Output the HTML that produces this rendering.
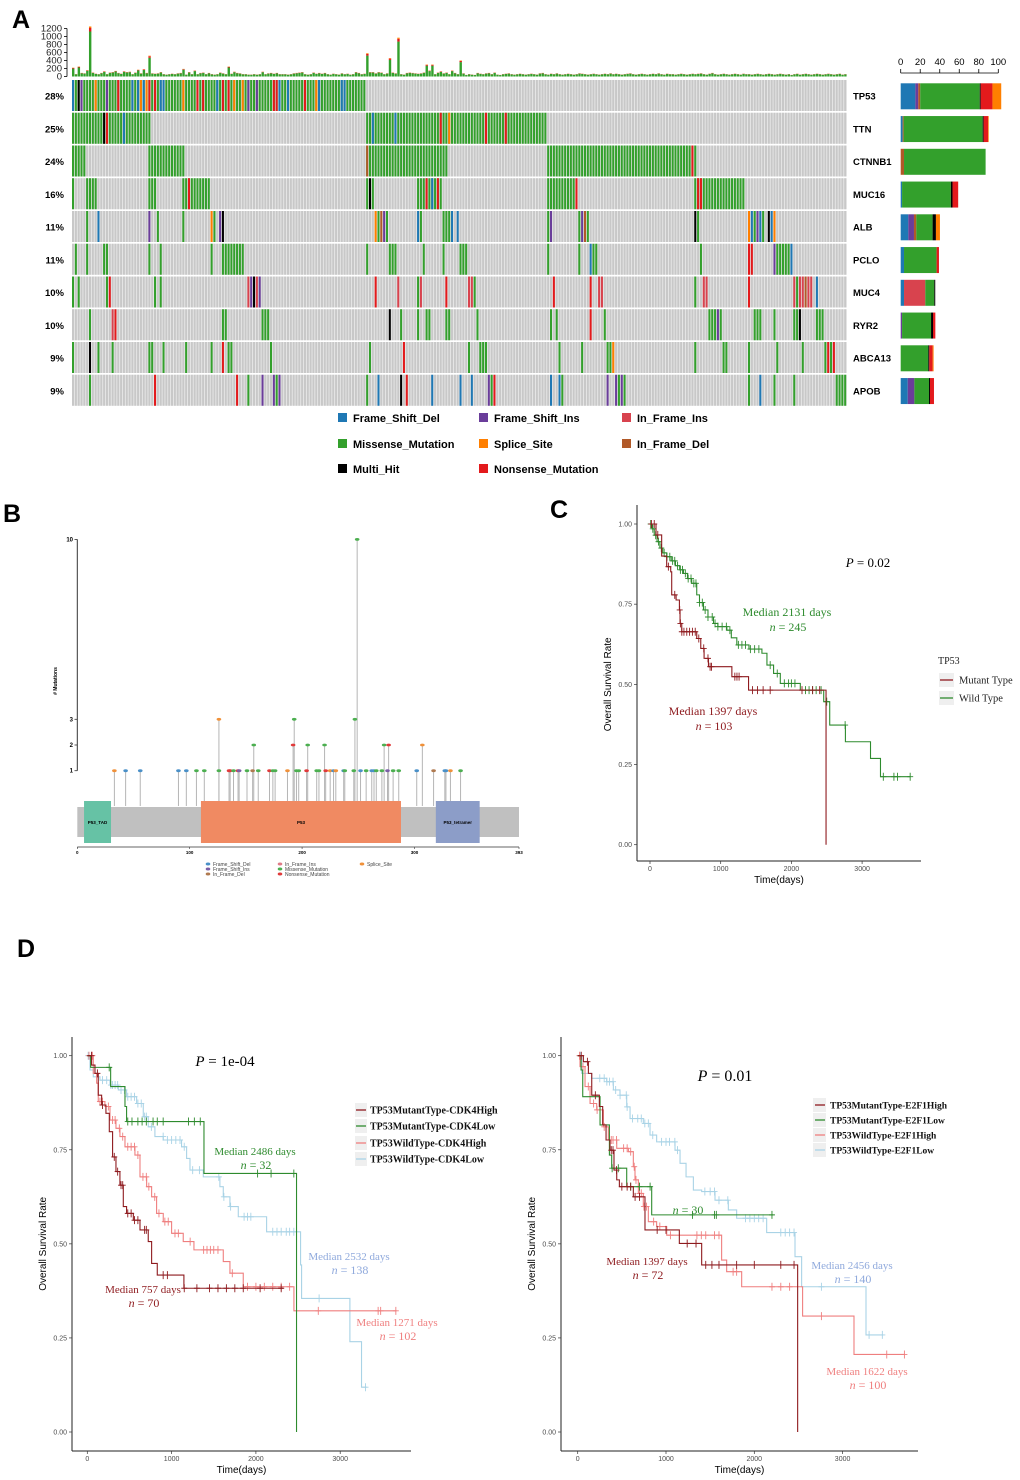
<!DOCTYPE html>
<html><head><meta charset="utf-8"><title>TP53 mutation figure</title>
<style>
html,body{margin:0;padding:0;background:#fff;width:1020px;height:1480px;overflow:hidden}
svg{display:block}
.sans{font-family:"Liberation Sans",Arial,sans-serif}
.serif{font-family:"Liberation Serif","Times New Roman",serif}
</style></head>
<body>
<svg id="fig" width="1020" height="1480" viewBox="0 0 1020 1480" xmlns="http://www.w3.org/2000/svg"></svg>
<script>
// ---------------- DATA ----------------
const genes = ["TP53","TTN","CTNNB1","MUC16","ALB","PCLO","MUC4","RYR2","ABCA13","APOB"];
const genePct = ["28%","25%","24%","16%","11%","11%","10%","10%","9%","9%"];
const nSamples = 274;
const sampleTotals = [220,60,250,90,80,160,1250,100,70,60,90,130,60,100,110,140,90,70,130,110,
120,60,100,170,80,180,90,520,80,70,80,110,60,50,60,70,60,80,90,190,
50,110,60,150,60,90,100,60,90,60,50,60,100,80,60,250,70,120,90,80,
60,60,50,50,60,50,60,120,60,80,90,70,90,60,60,60,50,60,80,90,
100,110,60,50,60,100,70,90,70,90,60,50,70,60,50,80,60,70,50,60,
110,90,60,70,580,110,110,80,110,100,60,80,460,100,80,970,60,50,90,100,
90,80,70,80,100,300,150,300,60,100,130,80,100,60,150,90,60,400,80,40,
60,50,40,90,70,60,80,90,60,100,50,40,60,70,80,60,50,60,70,60,
50,60,70,60,50,80,90,60,50,70,60,80,60,50,60,70,60,50,60,80,
70,60,50,60,70,60,50,60,70,60,80,60,70,60,50,60,70,80,60,50,
60,70,60,50,60,70,60,80,60,50,70,60,60,50,60,70,60,50,60,70,
60,70,80,60,50,70,90,60,50,60,70,60,50,60,70,60,50,70,60,60,
50,60,70,60,50,60,70,60,50,60,70,60,50,60,40,60,70,50,60,70,
60,50,60,70,60,50,60,70,60,50,60,70,50,60];
const totalTicks = [0,200,400,600,800,1000,1200];
// mutation entries: "col:type" or "start-end:type"  (g missense, b fs_del, p fs_ins, R if_ins, n if_del, o splice, k multi, r nonsense)
const mutTP53 = "0-103:g 0:b 2:k 3:p 8:o 12:p 16:r 21:b 23:b 24:o 25:b 26:o 27:r 29:r 31:b 32:b 39:o 44:r 46:r 51:b 53:r 55:r 57:o 60:o 62:p 65:p 71:r 72:r 73:b 76:b 82:r 86:o 87:b 95:b 96:b";
const mutTTN = "0-27:g 11:k 12:r 18:b 104-167:g 106:b 114:b 130:r 133:o 146:r 153:r";
const mutCTNNB1 = "0-4:g 27-39:g 104-132:g 104:n 168-220:g 219:r";
const mutMUC16 = "0:g 5-8:g 27-29:g 39-48:g 41:r 104:g 105:k 106:g 122-130:g 125:r 127:b 129:r 168-177:g 178:r 220-237:g 221:r 222:r";
const mutALB = "5:g 9:b 27:p 30:g 39:g 49:o 50:g 52:p 53:k 107:o 108:g 109:n 110:p 111:g 122:b 123:g 131:g 132:g 133:g 134:b 136:b 168:g 169:p 179:g 180:p 181:n 182:g 220:k 221:g 239:o 240:b 241:g 242:p 243:b 244:g 246:k 247:b 248:o";
const mutPCLO = "1:g 5:g 11:g 12:g 27:g 31:g 49:g 53-60:g 104:g 112-114:g 124:g 131:g 137-139:g 168:g 179:g 183:b 184:g 185:g 222:g 239:r 240:r 248:p 249-253:g 254:b";
const mutMUC4 = "0:g 2:g 12:g 13:r 29:g 31:g 62:R 63:p 64:k 65:R 66:p 107:r 115:R 122:g 123:R 132:r 140:R 141:R 142:g 170:r 183:r 186:R 187:R 220:g 223:R 224:R 239:r 255:R 256:g 257:R 258:R 259:n 260:R 261:R 263:b";
const mutRYR2 = "6:g 14:R 15:r 53:g 54:g 67-69:g 112:k 116:g 122:g 125:g 126:g 132:g 133:g 143:g 169:g 171:g 183:r 188:g 225-227:g 228:p 229:g 241-243:g 248:g 255:g 256:g 257:k 263-265:g";
const mutABCA13 = "0:g 6:k 9:g 14:g 27:g 28:g 32:g 40:g 49:g 53:r 55:g 56:g 70:g 105:g 117:r 140:g 144-146:g 172:g 180:g 189:g 190:g 191:o 220:g 230:g 231:g 239:g 249:g 258:g 266:g 267:r 268:g 269:r";
const mutAPOB = "6:g 29:r 58:r 62:g 67:p 71:p 72:g 73:p 104:g 108:b 116:k 118:r 127:b 137:b 141:b 147:p 148:g 149:r 169:b 172:b 173:g 189:p 192:p 193:g 194:p 195:g 239:g 243:b 248:g 255:g 270-273:g";
const geneMutations = [mutTP53,mutTTN,mutCTNNB1,mutMUC16,mutALB,mutPCLO,mutMUC4,mutRYR2,mutABCA13,mutAPOB];
// right bar chart: % by type order b,p,n,R,g,k,r,o
const barTypes = ["b","p","n","R","g","k","r","o"];
const barTP53=[15,3,2,0,61,1,12,9], barTTN=[2,0,1,0,81,1,4.5,0.7], barCTNNB1=[0,0,3.4,0,83.6,0,0,0],
barMUC16=[1.4,0,0,0,50,1.7,5.8,0], barALB=[7.8,5.8,2.4,0,16.7,3.4,0,4.1], barPCLO=[3.4,0,0,0,33.4,0,2.4,0],
barMUC4=[3.4,0,0,21.8,9.2,1,0,0], barRYR2=[0,1.4,0,0,29.7,2,2.4,0], barABCA13=[0,0,0,0,28.3,1,3.4,1],
barAPOB=[7.2,6.8,0,0,15,1,4.1,0];
const geneBars=[barTP53,barTTN,barCTNNB1,barMUC16,barALB,barPCLO,barMUC4,barRYR2,barABCA13,barAPOB];
const pctTicks=[0,20,40,60,80,100];
// lollipop
const lolliPos=[33,43,56,90,97,106,113,126,126,135,136,139,143,144,151,156,157,161,171,174,176,187,192,193,195,197,204,205,213,215,220,221,225,228,230,237,238,246,247,249,252,257,262,264,266,271,273,276,277,281,286,302,307,317,327,328,332,341];
const lolliCnt=[1,1,1,1,1,1,1,3,1,1,1,1,1,1,1,1,2,1,1,1,1,1,2,3,1,1,1,2,1,1,2,1,1,1,1,1,1,1,3,10,1,1,1,1,1,1,2,1,2,1,1,1,2,1,1,1,1,1];
const lolliType=["o","b","b","b","b","g","g","o","g","r","r","g","r","p","g","n","g","g","r","g","g","o","r","g","g","g","r","g","g","g","g","r","o","b","o","b","g","g","g","g","b","g","b","b","g","g","g","p","r","g","g","b","o","n","b","b","o","g"];
const lolliYTicks=[1,2,3,10];
const lolliXTicks=[0,100,200,300,393];
// KM panel C
const cMutT=[0,85,165,236,293,307,369,416,425,449,661,718,765,827,1158,1394,2490];
const cMutS=[1,0.966,0.90,0.867,0.851,0.779,0.763,0.732,0.69,0.664,0.643,0.612,0.581,0.555,0.524,0.482,0];
const cMutCens=[20,60,110,260,350,420,430,450,480,520,560,600,640,690,760,820,850,870,1200,1230,1260,1450,1520,1600,1700,2150,2300,2400];
const cWildT=[0,30,60,100,140,180,236,300,360,420,473,530,590,661,700,756,820,898,960,1087,1150,1228,1400,1583,1654,1748,1843,2126,2457,2542,2764,3119,3260,3685];
const cWildS=[1,0.985,0.965,0.945,0.925,0.91,0.898,0.885,0.87,0.857,0.846,0.83,0.815,0.779,0.755,0.732,0.71,0.69,0.68,0.669,0.645,0.623,0.61,0.597,0.56,0.534,0.503,0.482,0.446,0.373,0.321,0.269,0.212,0.212];
const cWildCens=[10,40,80,120,160,200,240,280,320,350,390,430,460,500,540,580,620,650,700,740,780,820,880,920,960,1020,1080,1130,1250,1300,1350,1420,1480,1540,1700,1800,1900,1960,2000,2050,2200,2250,2300,2350,2420,2500,2760,3300,3450,3500,3680];
// KM panel D left (CDK4)
const dlMHT=[0,51,91,130,170,221,261,300,340,387,427,466,546,625,723,763,830,1146,2324];
const dlMHS=[1,0.975,0.953,0.895,0.869,0.847,0.798,0.731,0.692,0.656,0.599,0.581,0.563,0.537,0.506,0.448,0.417,0.382,0.382];
const dlMHC=[50,120,180,320,360,400,420,480,520,560,600,680,700,900,950,1150,1300,1450,1550,1650,1750,1850,2050,2300];
const dlMLT=[0,40,277,447,466,1384,2482];
const dlMLS=[1,0.969,0.918,0.865,0.825,0.687,0];
const dlMLC=[260,480,530,600,650,700,780,830,900,1200,1270,1340,2020,2180,2450];
const dlWHT=[0,71,111,130,209,269,340,387,447,565,625,704,763,822,901,1000,1138,1265,1613,1692,1850,2451,3668];
const dlWHS=[1,0.953,0.927,0.878,0.865,0.829,0.807,0.785,0.758,0.736,0.678,0.652,0.625,0.581,0.559,0.528,0.506,0.484,0.453,0.422,0.386,0.322,0.322];
const dlWHC=[20,60,150,180,250,300,330,380,420,480,520,560,600,660,700,730,800,850,920,960,1040,1080,1220,1380,1420,1460,1500,1550,1720,1900,2000,2100,2200,2300,2400,2740,3450,3480,3660];
const dlWLT=[0,32,71,150,269,368,466,585,664,723,802,901,1118,1178,1218,1376,1573,1613,1692,1791,2127,2530,2542,3115,3253,3313];
const dlWLS=[1,0.962,0.944,0.935,0.922,0.909,0.891,0.873,0.838,0.811,0.785,0.776,0.758,0.727,0.696,0.678,0.652,0.625,0.599,0.572,0.532,0.444,0.355,0.24,0.119,0.119];
const dlWLC=[10,180,230,280,300,330,360,400,440,480,520,560,600,640,680,700,760,900,950,1000,1050,1100,1150,1250,1330,1560,1620,1700,1860,1900,1940,2200,2250,2300,2360,2400,2450,2750,3300];
// KM panel D right (E2F1)
const drMHT=[0,64,121,159,245,283,321,366,411,442,472,630,762,1151,1404,2491];
const drMHS=[1,0.984,0.953,0.895,0.865,0.816,0.776,0.749,0.696,0.67,0.652,0.625,0.537,0.501,0.444,0];
const drMHC=[40,110,200,380,400,440,500,560,600,650,700,900,1000,1240,1340,1450,1520,1600,1800,2000,2300,2450];
const drMLT=[0,38,57,253,359,385,555,838,2215];
const drMLS=[1,0.962,0.891,0.816,0.736,0.701,0.652,0.577,0.577];
const drMLC=[390,460,600,700,820,1300,1550,1570,2200];
const drWHT=[0,26,83,140,215,291,347,442,574,630,649,687,743,800,894,1008,1630,1687,1857,2547,3129,3706];
const drWHS=[1,0.971,0.918,0.873,0.856,0.811,0.776,0.754,0.745,0.705,0.67,0.634,0.599,0.559,0.546,0.523,0.457,0.426,0.386,0.308,0.206,0.206];
const drWHC=[20,60,120,180,220,300,380,400,440,520,560,600,640,660,700,720,750,780,860,930,1050,1350,1400,1450,1550,1600,1760,1800,2200,2300,2400,2760,3500,3700];
const drWLT=[0,45,159,328,404,479,555,593,743,819,894,1102,1159,1227,1310,1404,1555,1706,1800,2140,2461,2536,3265,3461];
const drWLS=[1,0.953,0.94,0.931,0.909,0.895,0.864,0.833,0.82,0.789,0.771,0.749,0.714,0.678,0.643,0.639,0.616,0.59,0.568,0.53,0.466,0.386,0.258,0.258];
const drWLC=[30,250,300,330,360,400,430,480,550,560,620,680,720,760,800,850,950,1000,1040,1100,1130,1440,1500,1550,1600,1700,1900,1950,2000,2050,2100,2300,2350,2400,2450,2760,3300,3450];
const kmTicksY=[0,0.25,0.5,0.75,1];
const kmTicksX=[0,1000,2000,3000];

// ---------------- DRAW ----------------
const NS="http://www.w3.org/2000/svg";
const svg=document.getElementById('fig');
function el(tag,attrs,parent){const e=document.createElementNS(NS,tag);for(const k in attrs)e.setAttribute(k,attrs[k]);(parent||svg).appendChild(e);return e;}
function txt(x,y,s,attrs,parent){const e=el('text',Object.assign({x:x,y:y},attrs),parent);e.textContent=s;return e;}
const typeColor={g:"#33a02c",b:"#1f78b4",p:"#6a3d9a",R:"#d8434e",n:"#b15928",o:"#ff7f00",k:"#000000",r:"#e31a1c"};
const lolliColor={g:"#4caf50",b:"#4a90c8",p:"#7b5ea7",R:"#e07a86",n:"#b07a50",o:"#f0913a",k:"#000",r:"#e03a3a"};

// panel letters
[["A",12,28],["B",3,522],["C",550,518],["D",17,957]].forEach(function(L){
  const t=txt(L[1],L[2],L[0],{"font-size":"25","font-weight":"bold",class:"sans",fill:"#000"});
  
  
});

// ===== Panel A =====
const gA=el('g',{});


const oX0=72, oX1=847, pitch=(oX1-oX0)/nSamples;
const colX=c=>oX0+c*pitch;
const rowTop=i=>80+i*32.75;
const rowH=31;
// top totals bar
const totY=v=>76.5-v*48/1200;
const gTot=el('g',{},gA);


sampleTotals.forEach(function(v,c){
  const x=colX(c), w=pitch*0.85;
  const gH=v*0.9, rH=v*0.07, oH=v*0.03;
  const b1=el('rect',{x:x,y:totY(gH),width:w,height:76.5-totY(gH),fill:"#33a02c"},gTot);
  
  
  const b2=el('rect',{x:x,y:totY(gH+rH),width:w,height:totY(gH)-totY(gH+rH),fill:"#e31a1c"},gTot);
  
  
  const b3=el('rect',{x:x,y:totY(v),width:w,height:totY(gH+rH)-totY(v),fill:"#ff7f00"},gTot);
  
  
});
el('line',{x1:67,y1:totY(0),x2:67,y2:totY(1200),stroke:"#000","stroke-width":0.8},gA);
totalTicks.forEach(function(t){
  el('line',{x1:64,x2:67,y1:totY(t),y2:totY(t),stroke:"#000","stroke-width":0.8},gA);
  const tl=txt(62,totY(t)+3,String(t),{"font-size":"9.5",class:"sans","text-anchor":"end",fill:"#222"},gA);
  
  
});
// rows
genes.forEach(function(g,i){
  const y=rowTop(i);
  const bg=el('rect',{x:oX0,y:y,width:oX1-oX0,height:rowH,fill:"#ececec"},gA);
  
  
  for(let c=0;c<nSamples;c++){
    const r=el('rect',{x:colX(c),y:y,width:pitch*0.72,height:rowH,fill:"#c8c8c8"},gA);
    
    
  }
  geneMutations[i].split(" ").forEach(function(tok){
    const parts=tok.split(":"), rng=parts[0].split("-");
    const a=+rng[0], b=rng.length>1?+rng[1]:a;
    for(let c=a;c<=b;c++){
      const m=el('rect',{x:colX(c),y:y,width:pitch*0.72,height:rowH,fill:typeColor[parts[1]]},gA);
      
      
    }
  });
  const pl=txt(64,y+19.5,genePct[i],{"font-size":"9.5","font-weight":"bold",class:"sans","text-anchor":"end"},gA);
  
  
  const gl=txt(853,y+19.5,g,{"font-size":"9.5","font-weight":"bold",class:"sans"},gA);
  
  
  // right bars
  const pxU=(998.3-900.7)/100;
  let acc=0;
  geneBars[i].forEach(function(v,k){
    if(v<=0)return;
    const sb=el('rect',{x:900.7+acc*pxU,y:y+3.3,width:v*pxU,height:26,fill:typeColor[barTypes[k]]},gA);
    
    
    acc+=v;
  });
});
// right axis
el('line',{x1:900.7,x2:998.3,y1:73,y2:73,stroke:"#000","stroke-width":0.8},gA);
pctTicks.forEach(function(t){
  const x=900.7+t*(998.3-900.7)/100;
  el('line',{x1:x,x2:x,y1:69,y2:73,stroke:"#000","stroke-width":0.8},gA);
  const l=txt(x,65,String(t),{"font-size":"9.5",class:"sans","text-anchor":"middle"},gA);
  
  
});
// legend A
const legA=[["Frame_Shift_Del","b",338,418],["Frame_Shift_Ins","p",479,418],["In_Frame_Ins","R",622,418],
["Missense_Mutation","g",338,444],["Splice_Site","o",479,444],["In_Frame_Del","n",622,444],
["Multi_Hit","k",338,469],["Nonsense_Mutation","r",479,469]];
legA.forEach(function(L){
  const sq=el('rect',{x:L[2],y:L[3]-5,width:9,height:9,fill:typeColor[L[1]]},gA);
  
  
  const t=txt(L[2]+15,L[3]+4,L[0],{"font-size":"11","font-weight":"bold",class:"sans"},gA);
  
  
});

// ===== Panel B =====
const gB=el('g',{});


const bx=aa=>77.3+aa*(519-77.3)/393;
const by=n=>770.7-(n-1)*25.7;
el('rect',{x:bx(0),y:807,width:bx(393)-bx(0),height:30,fill:"#c0c0c0"},gB);
const doms=[["P53_TAD",6,30,"#66c2a5"],["P53",110,288,"#f08a62"],["P53_tetramer",319,358,"#8c9dc8"]];
lolliPos.forEach(function(p,i){
  const st=el('line',{x1:bx(p),x2:bx(p),y1:806,y2:by(lolliCnt[i]),stroke:"#b5b5b5","stroke-width":1},gB);
  
  
});
doms.forEach(function(d){
  const r=el('rect',{x:bx(d[1]),y:801,width:bx(d[2])-bx(d[1]),height:42,fill:d[3]},gB);
  
  
  const t=txt((bx(d[1])+bx(d[2]))/2,824,d[0],{"font-size":"4.5","font-weight":"bold",class:"sans","text-anchor":"middle"},gB);
  
  
});
lolliPos.forEach(function(p,i){
  const h=el('ellipse',{cx:bx(p),cy:by(lolliCnt[i]),rx:2.3,ry:1.4,fill:lolliColor[lolliType[i]]},gB);
  
  
});
el('line',{x1:77.3,x2:77.3,y1:by(10),y2:by(1),stroke:"#333","stroke-width":1},gB);
lolliYTicks.forEach(function(t){
  el('line',{x1:74.5,x2:77.3,y1:by(t),y2:by(t),stroke:"#333","stroke-width":0.8},gB);
  const l=txt(73,by(t)+2,String(t),{"font-size":"6","font-weight":"bold",class:"sans","text-anchor":"end"},gB);
  
  
});
const byl=txt(0,0,"# Mutations",{"font-size":"5","font-weight":"bold",class:"sans","text-anchor":"middle",transform:"translate(57,681) rotate(-90)"},gB);


el('line',{x1:bx(0),x2:bx(393),y1:847,y2:847,stroke:"#333","stroke-width":0.8},gB);
lolliXTicks.forEach(function(t){
  el('line',{x1:bx(t),x2:bx(t),y1:847,y2:849,stroke:"#333","stroke-width":0.6},gB);
  const l=txt(bx(t),854,String(t),{"font-size":"4.5","font-weight":"bold",class:"sans","text-anchor":"middle"},gB);
  
  
});
const legB=[["Frame_Shift_Del","b",208,864],["Frame_Shift_Ins","p",208,869],["In_Frame_Del","n",208,874],
["In_Frame_Ins","R",280,864],["Missense_Mutation","g",280,869],["Nonsense_Mutation","r",280,874],["Splice_Site","o",362,864]];
legB.forEach(function(L){
  const d=el('ellipse',{cx:L[2],cy:L[3],rx:2.3,ry:1.5,fill:lolliColor[L[1]]},gB);
  
  
  const t=txt(L[2]+5,L[3]+1.8,L[0],{"font-size":"5",class:"sans",fill:"#444"},gB);
  
  
});

// ===== KM panels =====
function kmAxes(g,P,title){
  el('line',{x1:P.ax,x2:P.ax,y1:P.atop,y2:P.abot,stroke:"#222","stroke-width":1},g);
  el('line',{x1:P.ax,x2:P.aright,y1:P.abot,y2:P.abot,stroke:"#222","stroke-width":1},g);
  kmTicksY.forEach(function(t){
    el('line',{x1:P.ax-3,x2:P.ax,y1:P.ys(t),y2:P.ys(t),stroke:"#333","stroke-width":0.7},g);
    const l=txt(P.ax-5,P.ys(t)+2.5,t.toFixed(2),{"font-size":"7",class:"sans","text-anchor":"end",fill:"#4d4d4d"},g);
    
    
  });
  kmTicksX.forEach(function(t){
    el('line',{x1:P.xs(t),x2:P.xs(t),y1:P.abot,y2:P.abot+3,stroke:"#333","stroke-width":0.7},g);
    const l=txt(P.xs(t),P.abot+10,String(t),{"font-size":"7",class:"sans","text-anchor":"middle",fill:"#4d4d4d"},g);
    
    
  });
  const xt=txt((P.ax+P.aright)/2,P.abot+22,"Time(days)",{"font-size":"10",class:"sans","text-anchor":"middle"},g);
  
  
  const yt=txt(0,0,"Overall Survival Rate",{"font-size":"10",class:"sans","text-anchor":"middle",transform:"translate("+(P.ax-26)+","+P.ys(0.5)+") rotate(-90)"},g);
  
  
}
function kmCurve(g,P,T,S,C,color,name){
  let d="M"+P.xs(T[0])+","+P.ys(S[0]);
  for(let i=1;i<T.length;i++){d+=" H"+P.xs(T[i])+" V"+P.ys(S[i]);}
  const p=el('path',{d:d,fill:"none",stroke:color,"stroke-width":1.1},g);
  
  
  C.forEach(function(c){
    let s=S[0];
    for(let i=0;i<T.length;i++){if(T[i]<=c)s=S[i];}
    const x=P.xs(c), y=P.ys(s);
    const m=el('path',{d:"M"+x+","+(y-4)+" V"+(y+4)+" M"+(x-3)+","+y+" H"+(x+3),stroke:color,"stroke-width":0.9,fill:"none"},g);
    
    
  });
}
function stxt(g,x,y,s,color,size,name,extra){
  const t=txt(x,y,s,Object.assign({"font-size":size||"12",class:"serif","text-anchor":"middle",fill:color},extra||{}),g);
  
  
  return t;
}
function ntxt(g,x,y,n,color,name){
  const t=el('text',{x:x,y:y,"font-size":"12",class:"serif","text-anchor":"middle",fill:color},g);
  
  
  const i=el('tspan',{"font-style":"italic"},t);i.textContent="n";
  const r=el('tspan',{},t);r.textContent=" = "+n;
}
function ptxt(g,x,y,val,size){
  const t=el('text',{x:x,y:y,"font-size":size,class:"serif","text-anchor":"middle"},g);
  
  
  const i=el('tspan',{"font-style":"italic"},t);i.textContent="P";
  const r=el('tspan',{},t);r.textContent=" = "+val;
}
const DR="#8e1a1e", GR="#2e8b2e", SA="#ef7f7f", LB="#a9d3e6", LBT="#8fa9dc";

// Panel C
const PC={ax:637,aright:921,atop:505,abot:861,xs:t=>650+t*0.0707,ys:s=>844.7-s*320.7};
const gC=el('g',{});


kmAxes(gC,PC);
kmCurve(gC,PC,cWildT,cWildS,cWildCens,GR,'wild-type');
kmCurve(gC,PC,cMutT,cMutS,cMutCens,DR,'mutant-type');
ptxt(gC,868,567,"0.02","13");
stxt(gC,787,616,"Median 2131 days",GR,"12","median-label-wild");
ntxt(gC,788,631,"245",GR,"n-label-wild");
stxt(gC,713,715,"Median 1397 days",DR,"12","median-label-mutant");
ntxt(gC,714,730,"103",DR,"n-label-mutant");
stxt(gC,938,664,"TP53","#222","10","legend-title",{"text-anchor":"start"});
[["Mutant Type",DR,680],["Wild Type",GR,698]].forEach(function(L){
  const bxr=el('rect',{x:939,y:L[2]-7,width:15,height:14,fill:"#efefef"},gC);
  
  
  el('line',{x1:940,x2:953,y1:L[2],y2:L[2],stroke:L[1],"stroke-width":1.3},gC);
  stxt(gC,959,L[2]+3.5,L[0],"#222","10.5","legend-entry",{"text-anchor":"start"});
});

// Panel D left
const PDL={ax:72,aright:411,atop:1037,abot:1451,xs:t=>87.3+t*0.0843,ys:s=>1432-s*376.3};
const gDL=el('g',{});


kmAxes(gDL,PDL);
kmCurve(gDL,PDL,dlWLT,dlWLS,dlWLC,LB,'wildtype-cdk4low');
kmCurve(gDL,PDL,dlWHT,dlWHS,dlWHC,SA,'wildtype-cdk4high');
kmCurve(gDL,PDL,dlMLT,dlMLS,dlMLC,GR,'mutant-cdk4low');
kmCurve(gDL,PDL,dlMHT,dlMHS,dlMHC,DR,'mutant-cdk4high');
ptxt(gDL,225,1066,"1e-04","15");
stxt(gDL,255,1155,"Median 2486 days",GR,"11","median-label");
ntxt(gDL,256,1169,"32",GR,"n-label");
stxt(gDL,349,1260,"Median 2532 days",LBT,"11","median-label");
ntxt(gDL,350,1274,"138",LBT,"n-label");
stxt(gDL,143,1293,"Median 757 days",DR,"11","median-label");
ntxt(gDL,144,1307,"70",DR,"n-label");
stxt(gDL,397,1326,"Median 1271 days",SA,"11","median-label");
ntxt(gDL,398,1340,"102",SA,"n-label");
[["TP53MutantType-CDK4High",DR,1110],["TP53MutantType-CDK4Low",GR,1126],["TP53WildType-CDK4High",SA,1143],["TP53WildType-CDK4Low",LB,1159]].forEach(function(L){
  const k=el('rect',{x:355,y:L[2]-7,width:12,height:14,fill:"#efefef"},gDL);
  
  
  el('line',{x1:356,x2:366,y1:L[2],y2:L[2],stroke:L[1],"stroke-width":1.3},gDL);
  stxt(gDL,370,L[2]+3.5,L[0],"#111","10","legend-entry",{"text-anchor":"start","font-weight":"bold"});
});

// Panel D right
const PDR={ax:561,aright:918,atop:1037,abot:1451,xs:t=>577.7+t*0.0883,ys:s=>1432-s*376.3};
const gDR=el('g',{});


kmAxes(gDR,PDR);
kmCurve(gDR,PDR,drWLT,drWLS,drWLC,LB,'wildtype-e2f1low');
kmCurve(gDR,PDR,drWHT,drWHS,drWHC,SA,'wildtype-e2f1high');
kmCurve(gDR,PDR,drMLT,drMLS,drMLC,GR,'mutant-e2f1low');
kmCurve(gDR,PDR,drMHT,drMHS,drMHC,DR,'mutant-e2f1high');
ptxt(gDR,725,1081,"0.01","16");
ntxt(gDR,688,1214,"30",GR,"n-label");
stxt(gDR,647,1265,"Median 1397 days",DR,"11","median-label");
ntxt(gDR,648,1279,"72",DR,"n-label");
stxt(gDR,852,1269,"Median 2456 days",LBT,"11","median-label");
ntxt(gDR,853,1283,"140",LBT,"n-label");
stxt(gDR,867,1375,"Median 1622 days",SA,"11","median-label");
ntxt(gDR,868,1389,"100",SA,"n-label");
[["TP53MutantType-E2F1High",DR,1105],["TP53MutantType-E2F1Low",GR,1120],["TP53WildType-E2F1High",SA,1135],["TP53WildType-E2F1Low",LB,1150]].forEach(function(L){
  const k=el('rect',{x:813,y:L[2]-7,width:13,height:14,fill:"#efefef"},gDR);
  
  
  el('line',{x1:815,x2:825,y1:L[2],y2:L[2],stroke:L[1],"stroke-width":1.3},gDR);
  stxt(gDR,830,L[2]+3.5,L[0],"#111","9.5","legend-entry",{"text-anchor":"start","font-weight":"bold"});
});
</script>
</body></html>
